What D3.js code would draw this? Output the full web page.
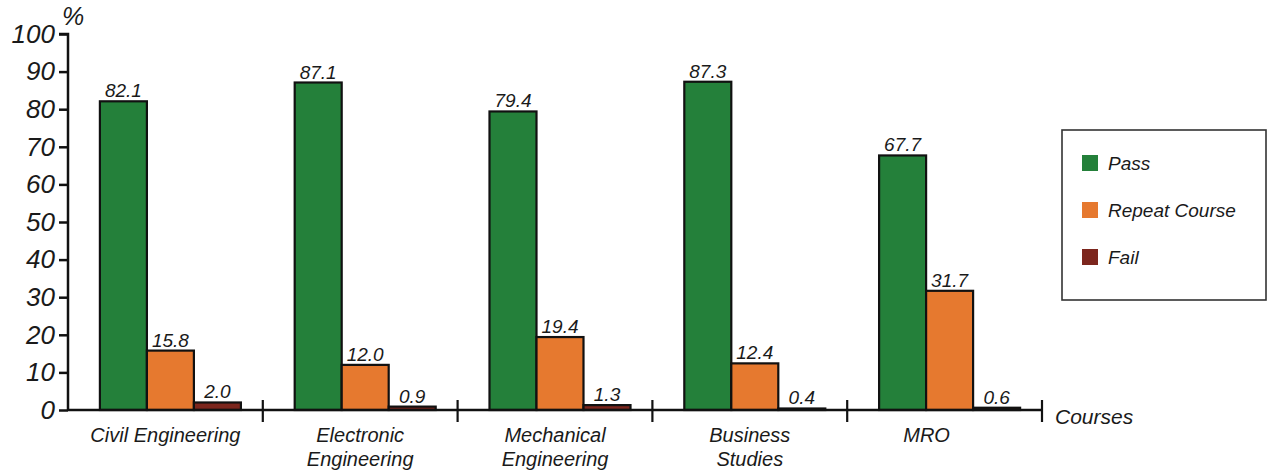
<!DOCTYPE html>
<html><head><meta charset="utf-8">
<script src="https://cdn.jsdelivr.net/npm/d3@7"></script>
<style>
body{margin:0;background:#fff;}
text{font-family:"Liberation Sans",Arial,sans-serif;font-style:italic;fill:#1a1a1a;}
</style></head>
<body>
<svg id="c" width="1278" height="472"></svg>
<script>
const courses = ["Civil Engineering", "Electronic\nEngineering", "Mechanical\nEngineering", "Business\nStudies", "MRO"];
const series = ["Pass", "Repeat Course", "Fail"];
const pass = [82.1, 87.1, 79.4, 87.3, 67.7];
const repeat = [15.8, 12.0, 19.4, 12.4, 31.7];
const fail = [2.0, 0.9, 1.3, 0.4, 0.6];
const yTicks = [0, 10, 20, 30, 40, 50, 60, 70, 80, 90, 100];
const colors = ["#24803a", "#e6792f", "#7c261d"];

const values = [pass, repeat, fail];
const svg = d3.select("#c");
const x0 = 68, x1 = 1042, yBase = 410, yTop = 34;

const x = d3.scaleBand().domain(courses).range([x0, x1]).paddingInner(0).paddingOuter(0);
const y = d3.scaleLinear().domain([0, 100]).range([yBase, yTop]);
const xs = d3.scaleBand().domain(series).range([0, 141]).padding(0);

courses.forEach((c, i) => {
  const gx = x(c) + x.bandwidth() / 2 - 70.5 + 5;
  series.forEach((s, j) => {
    const v = values[j][i];
    const bx = gx + xs(s);
    svg.append("rect")
      .attr("x", bx).attr("y", y(v))
      .attr("width", xs.bandwidth()).attr("height", yBase - y(v))
      .attr("fill", colors[j]).attr("stroke", "#111").attr("stroke-width", 2.2);
    svg.append("text")
      .attr("x", bx + xs.bandwidth() / 2).attr("y", y(v) - 4)
      .attr("text-anchor", "middle").attr("font-size", 19)
      .text(v.toFixed(1));
  });
});

const yAxis = d3.axisLeft(y).tickValues(yTicks).tickSize(9).tickPadding(4);
const gy = svg.append("g").attr("transform", `translate(${x0},0)`).call(yAxis);
gy.select(".domain").attr("stroke", "#111").attr("stroke-width", 2.5).attr("d", `M-9,${yTop}H0V${yBase}`);
gy.selectAll(".tick line").attr("stroke", "#111").attr("stroke-width", 2.5);
gy.selectAll(".tick text").attr("font-size", 26).attr("fill", "#1a1a1a")
  .attr("font-family", "Liberation Sans, Arial, sans-serif").attr("font-style", "italic");

svg.append("line").attr("x1", x0).attr("x2", x1).attr("y1", yBase).attr("y2", yBase)
  .attr("stroke", "#111").attr("stroke-width", 2.5);
courses.forEach((c, i) => {
  const tx = x(c) + x.bandwidth();
  svg.append("line").attr("x1", tx).attr("x2", tx).attr("y1", yBase - 10).attr("y2", yBase + 12)
    .attr("stroke", "#111").attr("stroke-width", 2.2);
  const cx = x(c) + x.bandwidth() / 2 - (i === 4 ? 18 : 0);
  const t = svg.append("text").attr("x", cx).attr("y", 442)
    .attr("text-anchor", "middle").attr("font-size", 20);
  c.split("\n").forEach((line, k) => {
    t.append("tspan").attr("x", cx).attr("dy", k === 0 ? 0 : 24).text(line);
  });
});

svg.append("text").attr("x", 62).attr("y", 25).attr("font-size", 25).text("%");
svg.append("text").attr("x", 1055).attr("y", 424).attr("font-size", 21).text("Courses");

svg.append("rect").attr("x", 1062).attr("y", 130).attr("width", 204).attr("height", 170)
  .attr("fill", "#fff").attr("stroke", "#333").attr("stroke-width", 1.6);
series.forEach((s, j) => {
  const ly = 155 + j * 47;
  svg.append("rect").attr("x", 1082).attr("y", ly).attr("width", 16).attr("height", 16).attr("fill", colors[j]);
  svg.append("text").attr("x", 1108).attr("y", ly + 15).attr("font-size", 19).text(s);
});
</script>
</body></html>
